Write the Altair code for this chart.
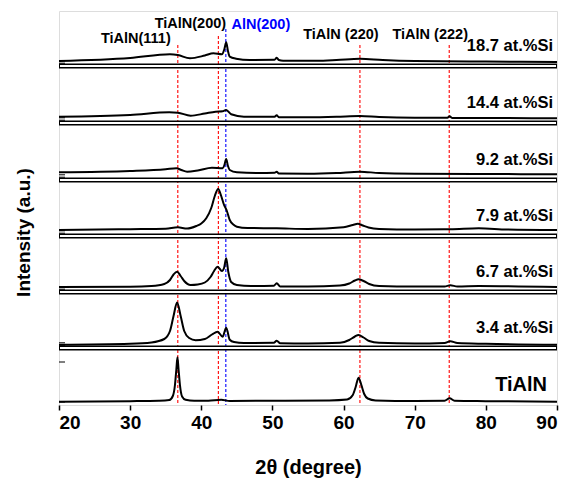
import altair as alt
import pandas as pd

# ---- data -------------------------------------------------------------
samples = ["TiAlN", "3.4 at.%Si", "6.7 at.%Si", "7.9 at.%Si",
           "9.2 at.%Si", "14.4 at.%Si", "18.7 at.%Si"]
# vertical stacking offsets (a.u.)
offsets = [0, 57, 113, 169, 225, 282, 339]

tt_0 = [20, 30, 34, 35.5, 36.0, 36.3, 36.5, 36.65, 36.8, 37.0, 37.3, 37.8, 39, 41, 42.8, 44,
        50, 58, 60.5, 61.3, 61.7, 62.1, 62.5, 62.9, 63.4, 64.5, 70, 74.2, 74.9, 75.6, 80, 90]
I_0 = [3.3, 3.8, 4.3, 5.0, 9, 20, 36, 47.7, 36, 20, 8.5, 5.2, 4.2, 4.3, 5.3, 4,
       4.3, 4.6, 5.5, 10, 18, 27.3, 20, 11, 6.5, 4.5, 4, 4.2, 6.7, 4.2, 3.8, 3.3]

tt_1 = [20, 30, 33, 34.8, 35.6, 36.1, 36.6, 37.1, 37.6, 38.3, 39.2, 40.5, 41.5, 42.3, 43.0,
        43.5, 44.0, 44.6, 46, 50.2, 50.6, 51.1, 55, 59.5, 60.8, 61.6, 62.1, 62.8, 63.6, 65,
        70, 74.2, 75.0, 76, 80, 90]
I_1 = [3.3, 4.3, 5.6, 9, 17, 32, 45.5, 32, 17, 10, 7.7, 9, 13.5, 16.3, 11.3,
       20.3, 8.3, 6, 5, 5.2, 7.3, 4.8, 4.5, 5.2, 8, 11.5, 13, 10.5, 7, 5.2,
       4.5, 5, 6.7, 5, 4.2, 3.3]

tt_2 = [20, 30, 33, 34.8, 35.6, 36.1, 36.6, 37.1, 37.6, 38.5, 39.5, 40.5, 41.3, 41.8, 42.3,
        42.9, 43.2, 43.5, 43.8, 44.2, 45, 47, 50.2, 50.6, 51.1, 55, 59.5, 60.8, 61.6, 62.1,
        62.8, 63.6, 65, 70, 74.2, 75.0, 76, 79, 90]
I_2 = [5, 5.3, 6, 8, 12, 17.5, 20.3, 16, 11, 7, 7.5, 9.5, 15, 21, 25.3,
       21, 24, 33.7, 20, 10, 7, 6, 6.3, 8.7, 5.5, 5.5, 6.5, 8.5, 11.5, 12.7,
       11, 8, 6, 5.5, 5.5, 6.7, 5.5, 6, 5]

tt_3 = [20, 30, 35, 36.7, 38, 39.3, 40.0, 40.7, 41.4, 41.9, 42.37, 42.8, 43.2, 43.55, 44.0,
        44.5, 45.0, 46.5, 50.6, 55, 60, 61.3, 62.0, 62.7, 63.5, 65, 70, 75, 79, 83, 90]
I_3 = [6, 6.8, 7.3, 8.7, 7.5, 10, 12.5, 17.7, 28, 40, 47, 40, 31, 26, 16,
       11.5, 9.3, 8, 7.7, 7, 8.7, 11, 12.3, 10.5, 8.5, 7, 6.5, 6.7, 7.7, 6.5, 6]

tt_4 = [20, 30, 35, 36.5, 37.2, 38, 39.5, 41.5, 43.0, 43.25, 43.5, 43.75, 44.0, 45, 48,
        50.3, 50.6, 50.9, 55, 59, 62.3, 65, 70, 80, 90]
I_4 = [7.7, 9, 10.7, 11.7, 10, 8.3, 9.5, 12.3, 11.7, 15, 21, 14, 10, 7.7, 7,
       7.2, 8.3, 6.5, 6.3, 7, 8.3, 7, 6.3, 6, 5.7]

tt_5 = [20, 30, 35.5, 36.7, 38.5, 40.5, 42.0, 43.0, 43.5, 44.2, 46, 50.3, 50.6, 50.9, 55,
        59, 62.3, 65, 70, 74.6, 74.9, 75.3, 80, 90]
I_5 = [6.3, 8, 10.7, 10.3, 7.3, 9.5, 11.3, 11.7, 13, 8.7, 6.3, 6.2, 7.7, 5.8, 5.7,
       6.2, 7, 6, 5.3, 5.3, 6.7, 5, 5, 4.7]

tt_6 = [20, 30, 35.6, 36.7, 38.4, 40.5, 41.7, 42.9, 43.25, 43.5, 43.75, 44.0, 44.9, 46.8,
        50.3, 50.6, 50.9, 51.5, 56.2, 59, 62.3, 65.5, 70, 80, 90]
I_6 = [5, 8, 11.7, 11, 7.7, 10.5, 12.7, 11.7, 17, 23.7, 15, 9.3, 7.3, 6,
       6.2, 8.3, 6, 5.3, 5.3, 6, 7.3, 6, 5, 4.5, 4]

two_theta = [tt_0, tt_1, tt_2, tt_3, tt_4, tt_5, tt_6]
intensity = [I_0, I_1, I_2, I_3, I_4, I_5, I_6]

peak_names = ["TiAlN(111)", "TiAlN(200)", "AlN(200)", "TiAlN (220)", "TiAlN (222)"]
peak_pos = [36.7, 42.4, 43.45, 62.3, 74.85]
peak_colors = ["red", "red", "blue", "red", "red"]

x_ticks = list(range(20, 91, 5))

# ---- layout constants ---------------------------------------------------
W, H = 498, 394
Y_MAX = 394
FONT = "Liberation Sans"

rows = []
for s, off, xs, ys in zip(samples, offsets, two_theta, intensity):
    for i, (a, b) in enumerate(zip(xs, ys)):
        rows.append({"sample": s, "tt": a, "y": off + b, "i": i})
df = pd.DataFrame(rows)

xscale = alt.Scale(domain=[20, 90], nice=False, zero=False)
yscale = alt.Scale(domain=[0, Y_MAX], nice=False, zero=False)

base_x = alt.X(
    "tt:Q", scale=xscale,
    axis=alt.Axis(
        values=x_ticks,
        labelExpr="datum.value % 10 == 0 ? datum.label : ''",
        labelFont=FONT, labelFontSize=19, labelFontWeight="bold", labelColor="black",
        labelPadding=3, tickSize=5, tickColor="black", tickWidth=1.5,
        domain=False, grid=False,
        title="2θ (degree)", titleFont=FONT, titleFontSize=20, titleFontWeight="bold",
        titleColor="black", titleBaseline="alphabetic", titleY=68, titleX=W / 2,
        titleAlign="center",
    ),
)
base_y = alt.Y(
    "y:Q", scale=yscale,
    axis=alt.Axis(
        labels=False, ticks=False, domain=False, grid=False,
        title="Intensity (a.u.)", titleFont=FONT, titleFontSize=19, titleFontWeight="bold",
        titleColor="black", titleAngle=270, titleX=-36, titleY=221,
        titleAlign="center", titleBaseline="middle",
    ),
)

# dashed reference lines
line_tops = [360, 369, 376, 360, 360]
pk = pd.DataFrame({"name": peak_names, "pos": peak_pos, "color": peak_colors})
pk["top"] = line_tops

dash_layers = []
for col, hexcol in [("red", "#ff0000"), ("blue", "#0000ff")]:
    dash_layers.append(
        alt.Chart(pk[pk["color"] == col]).mark_rule(
            strokeDash=[3, 2], strokeWidth=1.1, color=hexcol).encode(
            x=alt.X("pos:Q", scale=xscale),
            y=alt.Y("top:Q", scale=yscale),
            y2=alt.value(H),
        )
    )

# separators (double lines)
sep = pd.DataFrame({"b": offsets[1:]})
sep_black = alt.Chart(sep).mark_rule(color="black", strokeWidth=5).encode(
    y=alt.Y("b:Q", scale=yscale), x=alt.value(0), x2=alt.value(W))
sep_white = alt.Chart(sep).mark_rule(color="white", strokeWidth=2).encode(
    y=alt.Y("b:Q", scale=yscale), x=alt.value(1), x2=alt.value(W - 1))

# small left ticks
tk_rows = []
for k, off in enumerate(offsets):
    hs = [3, 43] if k == 0 else [2.8, 5.2]
    for h in hs:
        tk_rows.append({"v": off + h})
tk = alt.Chart(pd.DataFrame(tk_rows)).mark_rule(color="black", strokeWidth=1).encode(
    y=alt.Y("v:Q", scale=yscale), x=alt.value(0), x2=alt.value(6))

lines = alt.Chart(df).mark_line(color="black", strokeWidth=2, interpolate="monotone").encode(
    x=base_x, y=base_y, detail="sample:N", order="i:Q")

# sample labels
lab = pd.DataFrame({"sample": samples, "off": offsets})
lab["ly"] = lab["off"] + 20
lab["xr"] = 90
sample_labels = alt.Chart(lab[lab["sample"] != "TiAlN"]).mark_text(
    align="right", baseline="middle", font=FONT, fontSize=16.5, fontWeight="bold",
    color="black", dx=-4).encode(
    x=alt.X("xr:Q", scale=xscale), y=alt.Y("ly:Q", scale=yscale), text="sample:N")
tialn_label = alt.Chart(lab[lab["sample"] == "TiAlN"]).mark_text(
    align="right", baseline="middle", font=FONT, fontSize=20, fontWeight="bold",
    color="black", dx=-10).encode(
    x=alt.X("xr:Q", scale=xscale), y=alt.Y("ly:Q", scale=yscale), text="sample:N")

# peak labels
offs = {"TiAlN(111)": (-42, -6), "TiAlN(200)": (-28, -12), "AlN(200)": (35, -4),
        "TiAlN (220)": (-19, -10), "TiAlN (222)": (-19, -10)}
peak_labels = []
for name, pos, col in zip(peak_names, peak_pos, peak_colors):
    dx, dy = offs[name]
    one = pk[pk["name"] == name]
    peak_labels.append(
        alt.Chart(one).mark_text(
            align="center", baseline="middle", font=FONT, fontSize=14.5,
            fontWeight="bold", color="black" if col == "red" else "blue",
            dx=dx, dy=dy).encode(
            x=alt.X("pos:Q", scale=xscale), y=alt.Y("top:Q", scale=yscale), text="name:N")
    )

chart = alt.layer(
    *dash_layers, sep_black, sep_white, tk, lines, sample_labels, tialn_label, *peak_labels
).properties(
    width=W, height=H,
    autosize=alt.AutoSizeParams(type="none"),
    padding={"left": 59, "top": 11, "right": 22, "bottom": 74},
).configure_view(stroke="black", strokeWidth=1.5).configure(background="white")

chart.save("out.html", embed_options={"renderer": "svg", "actions": False})
